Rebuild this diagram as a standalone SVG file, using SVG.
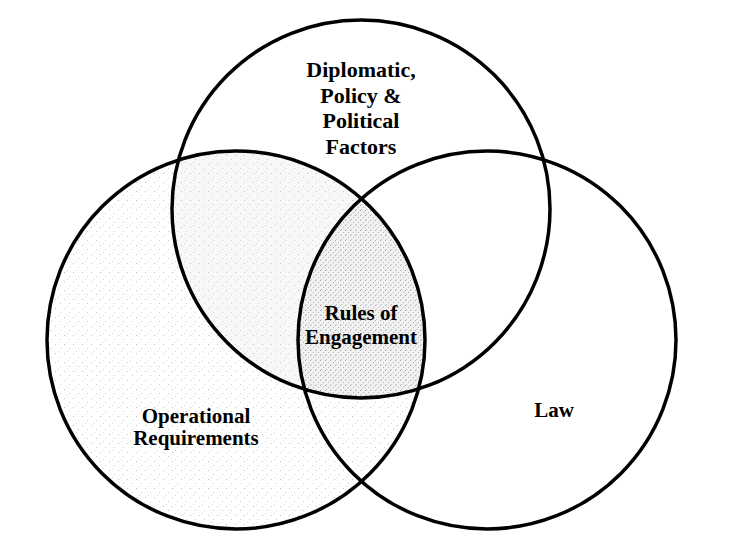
<svg xmlns="http://www.w3.org/2000/svg" width="730" height="552" viewBox="0 0 730 552">
  <style>
    .ring { fill: none; stroke: #000; stroke-width: 3.5; }
    .lbl { font-family: "Liberation Serif", "Times New Roman", serif; font-weight: bold; font-size: 21px; fill: #000; text-anchor: middle; }
  </style>
  <defs>
    <pattern id="lightDots" width="9" height="9" patternUnits="userSpaceOnUse">
      <rect x="1" y="2" width="1" height="1" fill="#c4c4c4"/>
      <rect x="6" y="6" width="1" height="1" fill="#d0d0d0"/>
      <rect x="4" y="0" width="1" height="1" fill="#dddddd"/>
    </pattern>
    <pattern id="denseDots" width="5" height="5" patternUnits="userSpaceOnUse">
      <rect width="5" height="5" fill="#f1f1f1"/>
      <rect x="0" y="0" width="1" height="1" fill="#a8a8a8"/>
      <rect x="3" y="2" width="1" height="1" fill="#b4b4b4"/>
      <rect x="1" y="4" width="1" height="1" fill="#c4c4c4"/>
    </pattern>
    <clipPath id="clipTop"><circle cx="361" cy="209" r="189"/></clipPath>
    <clipPath id="clipRight"><circle cx="487" cy="340" r="189"/></clipPath>
  </defs>
  <rect width="730" height="552" fill="#fff"/>
  <g id="shading">
    <circle cx="236" cy="340" r="189" fill="url(#lightDots)"/>
    <g clip-path="url(#clipTop)">
      <circle cx="236" cy="340" r="189" fill="#f8f8f8"/>
      <circle cx="236" cy="340" r="189" fill="url(#lightDots)"/>
      <g clip-path="url(#clipRight)">
        <circle cx="236" cy="340" r="189" fill="url(#denseDots)"/>
      </g>
    </g>
  </g>
  <g id="node-diplomatic">
    <circle class="ring" cx="361" cy="209" r="189"/>
    <text class="lbl" x="361" y="77" style="font-size:22px">Diplomatic,</text>
    <text class="lbl" x="361" y="102.5" style="font-size:22px">Policy &amp;</text>
    <text class="lbl" x="361" y="128" style="font-size:22px">Political</text>
    <text class="lbl" x="361" y="153.5" style="font-size:22px">Factors</text>
  </g>
  <g id="node-operational">
    <circle class="ring" cx="236" cy="340" r="189"/>
    <text class="lbl" x="196" y="423">Operational</text>
    <text class="lbl" x="196" y="445">Requirements</text>
  </g>
  <g id="node-law">
    <circle class="ring" cx="487" cy="340" r="189"/>
    <text class="lbl" x="554" y="417">Law</text>
  </g>
  <g id="node-roe">
    <text class="lbl" x="361" y="320">Rules of</text>
    <text class="lbl" x="361" y="344">Engagement</text>
  </g>
  <g id="connectors"></g>
</svg>
